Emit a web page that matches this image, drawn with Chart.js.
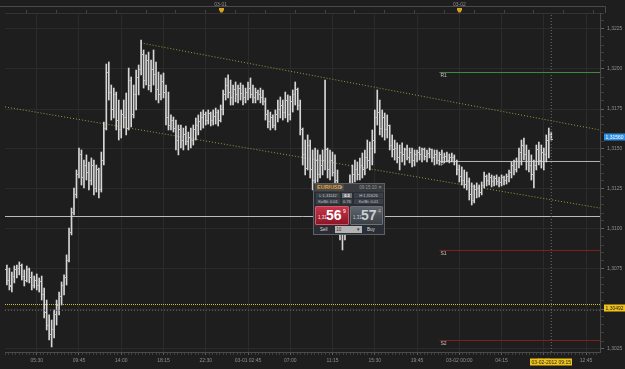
<!DOCTYPE html>
<html>
<head>
<meta charset="utf-8">
<script src="https://cdn.jsdelivr.net/npm/chart.js@4/dist/chart.umd.min.js"></script>
<style>
html,body{margin:0;padding:0;background:#1e1e1e;}
#wrap{position:relative;width:625px;height:369px;overflow:hidden;}
#c{position:absolute;left:0;top:0;}
#ticket{position:absolute;left:313px;top:183px;width:72px;height:52px;background:#2a2e34;border:1px solid #5c6168;box-sizing:border-box;font-family:"Liberation Sans",Arial,sans-serif;color:#c4c4c4;}
#ticket div,#ticket span{position:absolute;white-space:nowrap;}
#ticket .hd{left:0;top:0;width:70px;height:8px;background:#383a3e;}
#ticket .sym{left:1px;top:0;height:7px;padding:0 2px;background:#4a4a4a;font-weight:bold;font-size:5.5px;line-height:7px;color:#e6a437;}
#ticket .dd{left:26px;top:0;font-size:5px;line-height:7px;color:#aaa;}
#ticket .tm{right:2px;top:0;font-size:4.5px;line-height:7px;color:#9a9a9a;}
#ticket .cell{height:5px;font-size:4px;line-height:5px;text-align:center;background:#3b3f46;color:#c8c8c8;}
#ticket .hl{background:#6b6f76;color:#fff;font-weight:bold;}
#ticket .btn{top:22px;height:19px;border-radius:1px;}
#ticket .sell{left:1px;width:34px;background:linear-gradient(#c8354a,#8c1626);border:1px solid #d45a6a;box-sizing:border-box;}
#ticket .buy{left:36px;width:33px;background:linear-gradient(#5f646c,#3b3f46);border:1px solid #6c7178;box-sizing:border-box;}
#ticket .sm{left:2px;top:8px;font-size:4.5px;color:#eee;}
#ticket .big{left:10px;top:1px;font-size:14px;line-height:15px;font-weight:bold;color:#fff;}
#ticket .buy .big{color:#c9ced4;}
#ticket .buy .sm{color:#c9ced4;}
#ticket .sup{left:27px;top:1px;font-size:5px;color:#fff;}
#ticket .buy .sup{color:#bbb;}
#ticket .lbl{top:43px;font-size:4.5px;line-height:6px;color:#ddd;}
#ticket .qty{left:21px;top:42px;width:27px;height:7px;background:#b4b4b4;color:#333;font-size:4.5px;line-height:7px;}
</style>
</head>
<body>
<div id="wrap">
<canvas id="c" width="625" height="369" style="width:625px;height:369px"></canvas>
<div id="ticket">
  <div class="hd"><span class="sym">EUR/USD</span><span class="dd">▾</span><span class="tm">09:15:10 ✕</span></div>
  <div class="cell" style="left:2px;top:9px;width:24px;">L:1,31142</div>
  <div class="cell hl" style="left:28px;top:9px;width:10px;">0.3</div>
  <div class="cell" style="left:40px;top:9px;width:29px;">H:1,31626</div>
  <div class="cell" style="left:2px;top:15px;width:24px;">Ks/Bt: 0.01</div>
  <div class="cell" style="left:28px;top:15px;width:10px;">0.76</div>
  <div class="cell" style="left:40px;top:15px;width:29px;">Ks/Bt: 0.01</div>
  <div class="btn sell"><span class="sm">1,31</span><span class="big">56</span><span class="sup">9</span></div>
  <div class="btn buy"><span class="sm">1,31</span><span class="big">57</span><span class="sup">4</span></div>
  <div class="lbl" style="left:6px;">Sell</div>
  <div class="qty">&nbsp;10<span style="right:2px;top:0;">▾</span></div>
  <div class="lbl" style="left:53px;">Buy</div>
</div>
</div>
<script>
// ---------- DATA ----------
// x values are hours since 2012-02-29 00:00; one bar every 15 minutes
const firstBarHour = 2.5;
const barStepHours = 0.25;

const opens = [
1.30744,1.30681,1.30644,1.30706,1.30744,1.30756,1.30769,1.30706,1.30681,1.30744,
1.30694,1.30650,1.30681,1.30644,1.30669,1.30588,1.30481,1.30400,1.30338,1.30369,
1.30463,1.30525,1.30581,1.30650,1.30694,1.30806,1.30981,1.31106,1.31213,1.31338,
1.31463,1.31319,1.31400,1.31356,1.31306,1.31400,1.31256,1.31369,1.31244,1.31431,
1.31631,1.31981,1.31856,1.31744,1.31838,1.31681,1.31619,1.31713,1.31694,1.31631,
1.31931,1.31713,1.31838,1.31944,1.31994,1.32088,1.31931,1.32056,1.31900,1.31994,
1.31963,1.31869,1.31838,1.31919,1.31856,1.31694,1.31650,1.31681,1.31631,1.31556,
1.31619,1.31556,1.31588,1.31544,1.31569,1.31556,1.31619,1.31650,1.31669,1.31694,
1.31713,1.31681,1.31719,1.31681,1.31706,1.31731,1.31681,1.31744,1.31838,1.31900,
1.31856,1.31819,1.31869,1.31838,1.31881,1.31850,1.31819,1.31856,1.31881,1.31838,
1.31819,1.31856,1.31838,1.31819,1.31794,1.31713,1.31669,1.31694,1.31650,1.31713,
1.31744,1.31775,1.31731,1.31806,1.31713,1.31794,1.31838,1.31869,1.31775,1.31619,
1.31463,1.31381,1.31525,1.31369,1.31306,1.31431,1.31338,1.31400,1.31431,1.31494,
1.31369,1.31431,1.31356,1.31306,1.31150,1.30994,1.30963,1.31119,1.31213,1.31275,
1.31338,1.31369,1.31338,1.31400,1.31369,1.31444,1.31431,1.31506,1.31556,1.31694,
1.31731,1.31631,1.31694,1.31619,1.31650,1.31525,1.31494,1.31506,1.31444,1.31481,
1.31463,1.31494,1.31450,1.31481,1.31431,1.31463,1.31481,1.31463,1.31494,1.31456,
1.31475,1.31494,1.31450,1.31463,1.31431,1.31463,1.31444,1.31456,1.31431,1.31450,
1.31444,1.31419,1.31369,1.31331,1.31306,1.31281,1.31294,1.31213,1.31181,1.31244,
1.31256,1.31231,1.31275,1.31331,1.31306,1.31325,1.31294,1.31313,1.31300,1.31288,
1.31319,1.31306,1.31331,1.31356,1.31394,1.31369,1.31419,1.31481,1.31525,1.31463,
1.31419,1.31400,1.31338,1.31400,1.31494,1.31431,1.31481,1.31463,1.31556,1.31588
];
const highs = [
1.30775,1.30756,1.30731,1.30769,1.30775,1.30794,1.30781,1.30744,1.30769,1.30756,
1.30731,1.30706,1.30719,1.30694,1.30706,1.30631,1.30556,1.30463,1.30431,1.30494,
1.30556,1.30606,1.30669,1.30713,1.30838,1.31006,1.31131,1.31256,1.31369,1.31506,
1.31494,1.31431,1.31463,1.31419,1.31444,1.31431,1.31400,1.31381,1.31481,1.31669,
1.32031,1.32044,1.31900,1.31881,1.31856,1.31806,1.31744,1.31806,1.31850,1.32006,
1.31950,1.31900,1.31994,1.32025,1.32181,1.32119,1.32088,1.32106,1.32056,1.32119,
1.32044,1.31981,1.31963,1.31975,1.31900,1.31856,1.31713,1.31700,1.31681,1.31650,
1.31650,1.31631,1.31644,1.31606,1.31631,1.31650,1.31694,1.31713,1.31731,1.31744,
1.31731,1.31744,1.31731,1.31744,1.31756,1.31744,1.31775,1.31869,1.31944,1.31963,
1.31931,1.31900,1.31919,1.31900,1.31913,1.31900,1.31881,1.31919,1.31944,1.31900,
1.31881,1.31869,1.31881,1.31869,1.31819,1.31744,1.31731,1.31713,1.31744,1.31806,
1.31825,1.31806,1.31856,1.31838,1.31831,1.31869,1.31919,1.31881,1.31806,1.31631,
1.31556,1.31588,1.31556,1.31494,1.31506,1.31494,1.31463,1.31494,1.31931,1.31506,
1.31494,1.31481,1.31463,1.31369,1.31213,1.31088,1.31181,1.31275,1.31338,1.31400,
1.31431,1.31419,1.31444,1.31475,1.31494,1.31556,1.31544,1.31619,1.31744,1.31869,
1.31806,1.31744,1.31725,1.31713,1.31650,1.31588,1.31556,1.31538,1.31525,1.31538,
1.31506,1.31525,1.31506,1.31506,1.31494,1.31494,1.31513,1.31506,1.31506,1.31494,
1.31506,1.31500,1.31494,1.31494,1.31481,1.31494,1.31475,1.31481,1.31469,1.31475,
1.31463,1.31431,1.31400,1.31388,1.31369,1.31356,1.31319,1.31288,1.31275,1.31288,
1.31275,1.31294,1.31356,1.31338,1.31350,1.31338,1.31331,1.31338,1.31325,1.31338,
1.31331,1.31344,1.31369,1.31419,1.31431,1.31444,1.31506,1.31556,1.31569,1.31525,
1.31494,1.31463,1.31431,1.31525,1.31544,1.31525,1.31506,1.31588,1.31631,1.31606
];
const lows = [
1.30650,1.30619,1.30606,1.30663,1.30694,1.30713,1.30681,1.30644,1.30669,1.30663,
1.30619,1.30631,1.30619,1.30606,1.30556,1.30444,1.30369,1.30306,1.30263,1.30319,
1.30400,1.30463,1.30525,1.30588,1.30650,1.30794,1.30963,1.31088,1.31194,1.31319,
1.31275,1.31256,1.31306,1.31244,1.31275,1.31213,1.31231,1.31194,1.31231,1.31400,
1.31619,1.31806,1.31681,1.31694,1.31619,1.31556,1.31569,1.31631,1.31588,1.31619,
1.31638,1.31694,1.31744,1.31838,1.31963,1.31881,1.31900,1.31869,1.31856,1.31900,
1.31806,1.31788,1.31806,1.31819,1.31650,1.31619,1.31619,1.31606,1.31494,1.31463,
1.31506,1.31494,1.31525,1.31494,1.31506,1.31525,1.31556,1.31588,1.31619,1.31631,
1.31650,1.31656,1.31644,1.31650,1.31656,1.31644,1.31669,1.31713,1.31806,1.31819,
1.31775,1.31775,1.31794,1.31788,1.31806,1.31775,1.31788,1.31806,1.31819,1.31788,
1.31788,1.31806,1.31788,1.31775,1.31681,1.31631,1.31619,1.31631,1.31619,1.31669,
1.31694,1.31681,1.31694,1.31669,1.31681,1.31731,1.31775,1.31744,1.31588,1.31400,
1.31338,1.31369,1.31319,1.31244,1.31275,1.31294,1.31319,1.31338,1.31369,1.31319,
1.31306,1.31331,1.31275,1.31088,1.30931,1.30869,1.30931,1.31025,1.31150,1.31244,
1.31294,1.31306,1.31306,1.31319,1.31338,1.31381,1.31369,1.31400,1.31475,1.31650,
1.31588,1.31575,1.31556,1.31569,1.31494,1.31450,1.31431,1.31413,1.31369,1.31419,
1.31400,1.31431,1.31413,1.31388,1.31394,1.31419,1.31431,1.31419,1.31431,1.31419,
1.31444,1.31419,1.31400,1.31406,1.31400,1.31413,1.31413,1.31419,1.31413,1.31419,
1.31400,1.31338,1.31294,1.31275,1.31256,1.31244,1.31181,1.31150,1.31163,1.31194,
1.31200,1.31213,1.31256,1.31269,1.31275,1.31263,1.31269,1.31275,1.31263,1.31269,
1.31275,1.31281,1.31294,1.31319,1.31338,1.31356,1.31381,1.31400,1.31431,1.31369,
1.31356,1.31306,1.31256,1.31369,1.31400,1.31381,1.31369,1.31419,1.31444,1.31556
];
const closes = [
1.30681,1.30638,1.30713,1.30744,1.30756,1.30769,1.30706,1.30681,1.30744,1.30694,
1.30650,1.30681,1.30644,1.30669,1.30588,1.30481,1.30400,1.30338,1.30369,1.30463,
1.30525,1.30581,1.30650,1.30694,1.30806,1.30981,1.31106,1.31213,1.31338,1.31463,
1.31319,1.31400,1.31356,1.31306,1.31400,1.31256,1.31369,1.31244,1.31431,1.31631,
1.31981,1.31856,1.31744,1.31838,1.31681,1.31619,1.31713,1.31694,1.31631,1.31931,
1.31713,1.31838,1.31944,1.31994,1.32088,1.31931,1.32056,1.31900,1.31994,1.31963,
1.31869,1.31838,1.31919,1.31856,1.31694,1.31650,1.31681,1.31631,1.31556,1.31619,
1.31556,1.31588,1.31544,1.31569,1.31556,1.31619,1.31650,1.31669,1.31694,1.31713,
1.31681,1.31719,1.31681,1.31706,1.31731,1.31681,1.31744,1.31838,1.31900,1.31856,
1.31819,1.31869,1.31838,1.31881,1.31850,1.31819,1.31856,1.31881,1.31838,1.31819,
1.31856,1.31838,1.31819,1.31794,1.31713,1.31669,1.31694,1.31650,1.31713,1.31744,
1.31775,1.31731,1.31806,1.31713,1.31794,1.31838,1.31869,1.31775,1.31619,1.31463,
1.31381,1.31525,1.31369,1.31306,1.31431,1.31338,1.31400,1.31431,1.31494,1.31369,
1.31431,1.31356,1.31306,1.31150,1.30994,1.30963,1.31119,1.31213,1.31275,1.31338,
1.31369,1.31338,1.31400,1.31369,1.31444,1.31431,1.31506,1.31556,1.31694,1.31731,
1.31631,1.31694,1.31619,1.31650,1.31525,1.31494,1.31506,1.31444,1.31481,1.31463,
1.31494,1.31450,1.31481,1.31431,1.31463,1.31481,1.31463,1.31494,1.31456,1.31475,
1.31494,1.31450,1.31463,1.31431,1.31463,1.31444,1.31456,1.31431,1.31450,1.31444,
1.31419,1.31369,1.31331,1.31306,1.31281,1.31294,1.31213,1.31181,1.31244,1.31256,
1.31231,1.31275,1.31331,1.31306,1.31325,1.31294,1.31313,1.31300,1.31288,1.31319,
1.31306,1.31331,1.31356,1.31394,1.31369,1.31419,1.31481,1.31525,1.31463,1.31419,
1.31400,1.31338,1.31400,1.31494,1.31431,1.31481,1.31463,1.31556,1.31588,1.31560
];

// axis ticks
const priceTicks = [1.3025, 1.3050, 1.3075, 1.3100, 1.3125, 1.3150, 1.3175, 1.3200, 1.3225];
const priceTickLabels = ['1,3025','1,3050','1,3075','1,3100','1,3125','1,3150','1,3175','1,3200','1,3225'];
const timeTicks = [5.5, 9.75, 14, 18.25, 22.5, 26.75, 31, 35.25, 39.5, 43.75, 48, 52.25, 56.5, 60.75];
const timeTickLabels = ['05:30','09:45','14:00','18:15','22:30','03-01 02:45','07:00','11:15','15:30','19:45','03-02 00:00','04:15','08:30','12:45'];
const dayTicks = [24, 48];
const dayLabels = ['03-01', '03-02'];

// drawn levels / studies
const levelNames = ['R1', 'P', 'S1', 'S2'];
const levelPrices = [1.31978, 1.31422, 1.30866, 1.30303];
const levelStartHour = 46;
const channelUpperHours = [15.97, 62.15];
const channelUpperPrices = [1.32163, 1.31619];
const channelLowerHours = [2.31, 62.15];
const channelLowerPrices = [1.31763, 1.31131];
const whiteLinePrice = 1.31078;
const supportDotPrice = 1.30528;
const crosshairPrice = 1.30492;
const crosshairHour = 57.25;
const crosshairTimeLabel = '03-02-2012 09:15';
const lastPrice = 1.31560;

// ---------- VIEW ----------
const X_MIN = 2.31, X_MAX = 62.15;
const Y_MIN = 1.3023125, Y_MAX = 1.3235;
const FONT = '"Liberation Sans", "DejaVu Sans", Arial, sans-serif';
const C = {
  bg: '#1e1e1e', grid: '#2b2b2b', axis: '#4a4a4a', text: '#8e8e8e', bar: '#d6d6d6', tick: '#bdbdbd',
  channel: '#9d9a3e', white: '#bdbdbd', yellowDot: '#c9c235', cross: '#6e6e6e',
  levels: ['#3e8c3e', '#b5b5b5', '#7e2222', '#7e2222']
};
Chart.defaults.font.family = FONT;
Chart.defaults.font.size = 5;

const barHours = opens.map((_, i) => firstBarHour + i * barStepHours);
const fmtPrice = (v, d) => v.toFixed(d).replace('.', ',');

const majorStep = timeTicks[1] - timeTicks[0];
const xMinorTicks = [];
for (let k = -12; k <= 15 * 12; k++) {
  const v = +(timeTicks[0] + k * majorStep / 12).toFixed(6);
  if (v >= X_MIN && v <= X_MAX) xMinorTicks.push(v);
}
const yMinorTicks = [];
for (let k = 0; k <= 50; k++) {
  const v = Math.round((priceTicks[0] + k * 0.0005) * 1e5) / 1e5;
  if (v >= Y_MIN && v <= Y_MAX) yMinorTicks.push(v);
}
const xTopTicks = [];
for (let h = 3; h <= X_MAX; h += 3) if (h >= X_MIN) xTopTicks.push(h);

const majorXIndex = v => timeTicks.findIndex(t => Math.abs(t - v) < 1e-4);
const majorYIndex = v => priceTicks.findIndex(p => Math.abs(p - v) < 1e-7);

function tickImage(side) {
  const cv = document.createElement('canvas');
  cv.width = 3; cv.height = 1;
  const g = cv.getContext('2d');
  g.fillStyle = C.tick;
  g.fillRect(side === 'L' ? 0 : 2, 0, 1, 1);
  return cv;
}

function lineDs(xs, ys, color, dash, order) {
  return {
    type: 'line', data: xs.map((x, i) => ({x, y: ys[i]})),
    borderColor: color, borderWidth: 1, borderDash: dash, pointRadius: 0,
    fill: false, tension: 0, order, xAxisID: 'x', yAxisID: 'y'
  };
}

const datasets = [
  {
    type: 'bar', label: 'EUR/USD',
    data: barHours.map((h, i) => ({x: h, y: [lows[i], highs[i]]})),
    backgroundColor: C.bar, borderWidth: 0, barThickness: 1, grouped: false,
    order: 2, xAxisID: 'x', yAxisID: 'y'
  },
  {
    type: 'line', label: 'open', showLine: false,
    data: barHours.map((h, i) => ({x: h, y: opens[i]})),
    pointStyle: tickImage('L'), pointRadius: 2, order: 1, xAxisID: 'x', yAxisID: 'y'
  },
  {
    type: 'line', label: 'close', showLine: false,
    data: barHours.map((h, i) => ({x: h, y: closes[i]})),
    pointStyle: tickImage('R'), pointRadius: 2, order: 1, xAxisID: 'x', yAxisID: 'y'
  },
  lineDs(channelUpperHours, channelUpperPrices, C.channel, [1, 2], 5),
  lineDs(channelLowerHours, channelLowerPrices, C.channel, [1, 2], 5),
  lineDs([X_MIN, X_MAX], [whiteLinePrice, whiteLinePrice], C.white, [], 5),
  lineDs([X_MIN, X_MAX], [supportDotPrice, supportDotPrice], C.yellowDot, [1, 1], 5),
  lineDs([X_MIN, X_MAX], [crosshairPrice, crosshairPrice], C.cross, [1, 2], 0),
  lineDs([crosshairHour, crosshairHour], [Y_MIN, Y_MAX], C.cross, [1, 2], 0),
  ...levelPrices.map((p, i) => lineDs([levelStartHour, X_MAX], [p, p], C.levels[i], [], 5))
];

const overlay = {
  id: 'overlay',
  beforeDraw(chart) {
    const c = chart.ctx;
    c.save(); c.fillStyle = C.bg; c.fillRect(0, 0, chart.width, chart.height);
    c.strokeStyle = C.axis; c.lineWidth = 1;
    c.beginPath(); c.moveTo(0, 6.5); c.lineTo(605.5, 6.5); c.lineTo(605.5, 13); c.stroke();
    c.restore();
  },
  afterDraw(chart) {
    const c = chart.ctx, xs = chart.scales.x, ys = chart.scales.y;
    c.save();
    c.font = '5px ' + FONT;
    c.textAlign = 'left'; c.textBaseline = 'top';
    levelNames.forEach((n, i) => {
      c.fillStyle = '#c2c2c2';
      c.fillText(n, xs.getPixelForValue(levelStartHour) + 1, ys.getPixelForValue(levelPrices[i]) + 1);
    });
    dayTicks.forEach(h => {
      const px = Math.round(xs.getPixelForValue(h)) + 0.5;
      c.fillStyle = '#d9a21e';
      c.beginPath();
      c.moveTo(px - 2.5, 8); c.lineTo(px + 2.5, 8); c.lineTo(px + 2.5, 10);
      c.lineTo(px + 1, 12.5); c.lineTo(px - 1, 12.5); c.lineTo(px - 2.5, 10);
      c.closePath(); c.fill();
    });
    const box = (val, bg, fg) => {
      const py = Math.round(ys.getPixelForValue(val)) - 2;
      c.fillStyle = bg; c.fillRect(604, py - 3.5, 21, 7);
      c.fillStyle = fg; c.textBaseline = 'middle'; c.textAlign = 'left';
      c.fillText(fmtPrice(val, 5), 605.5, py + 0.2);
    };
    box(lastPrice, '#2f8fe3', '#ffffff');
    box(crosshairPrice, '#f0c41b', '#1c1c1c');
    const tx = xs.getPixelForValue(crosshairHour);
    const w = c.measureText(crosshairTimeLabel).width + 3;
    c.fillStyle = '#f0c41b';
    c.fillRect(Math.round(tx - w / 2), 358.5, Math.round(w), 7);
    c.fillStyle = '#1c1c1c'; c.textAlign = 'center'; c.textBaseline = 'middle';
    c.fillText(crosshairTimeLabel, tx, 362.2);
    c.restore();
  }
};

new Chart(document.getElementById('c'), {
  type: 'bar',
  data: { datasets },
  options: {
    responsive: false, animation: false, devicePixelRatio: 1, events: [],
    layout: { padding: 0 },
    plugins: { legend: { display: false }, tooltip: { enabled: false } },
    scales: {
      x: {
        type: 'linear', position: 'bottom', min: X_MIN, max: X_MAX, offset: false, bounds: 'data',
        afterBuildTicks: s => { s.ticks = xMinorTicks.map(v => ({value: v})); },
        afterFit: s => { s.height = 17; },
        ticks: {
          autoSkip: false, maxRotation: 0, minRotation: 0, color: C.text, padding: 3,
          font: { size: 5 },
          callback: v => { const i = majorXIndex(v); return i >= 0 ? timeTickLabels[i] : ''; }
        },
        grid: {
          offset: false, tickLength: 3,
          color: ctx => (ctx.tick && majorXIndex(ctx.tick.value) >= 0) ? C.grid : 'rgba(0,0,0,0)',
          tickColor: ctx => (ctx.tick && majorXIndex(ctx.tick.value) >= 0) ? '#5e5e5e' : '#3e3e3e'
        },
        border: { color: C.axis }
      },
      xTop: {
        type: 'linear', position: 'top', min: X_MIN, max: X_MAX, offset: false, bounds: 'data',
        afterBuildTicks: s => { s.ticks = xTopTicks.map(v => ({value: v})); },
        afterFit: s => { s.height = 13; },
        ticks: {
          autoSkip: false, maxRotation: 0, minRotation: 0, color: C.text, padding: 2,
          font: { size: 5 },
          callback: v => { const i = dayTicks.indexOf(v); return i >= 0 ? dayLabels[i] : ''; }
        },
        grid: { drawOnChartArea: false, tickLength: 3, color: '#444' },
        border: { color: '#333' }
      },
      y: {
        type: 'linear', position: 'right', min: Y_MIN, max: Y_MAX, beginAtZero: false, bounds: 'data',
        afterBuildTicks: s => { s.ticks = yMinorTicks.map(v => ({value: v})); },
        afterFit: s => { s.width = 25; },
        ticks: {
          autoSkip: false, color: C.text, padding: 3, font: { size: 5 },
          callback: v => { const i = majorYIndex(v); return i >= 0 ? priceTickLabels[i] : ''; }
        },
        grid: {
          tickLength: 4,
          color: ctx => (ctx.tick && majorYIndex(ctx.tick.value) >= 0) ? C.grid : 'rgba(0,0,0,0)',
          tickColor: ctx => (ctx.tick && majorYIndex(ctx.tick.value) >= 0) ? '#5e5e5e' : '#3e3e3e'
        },
        border: { color: C.axis }
      }
    }
  },
  plugins: [overlay]
});
</script>
</body>
</html>
